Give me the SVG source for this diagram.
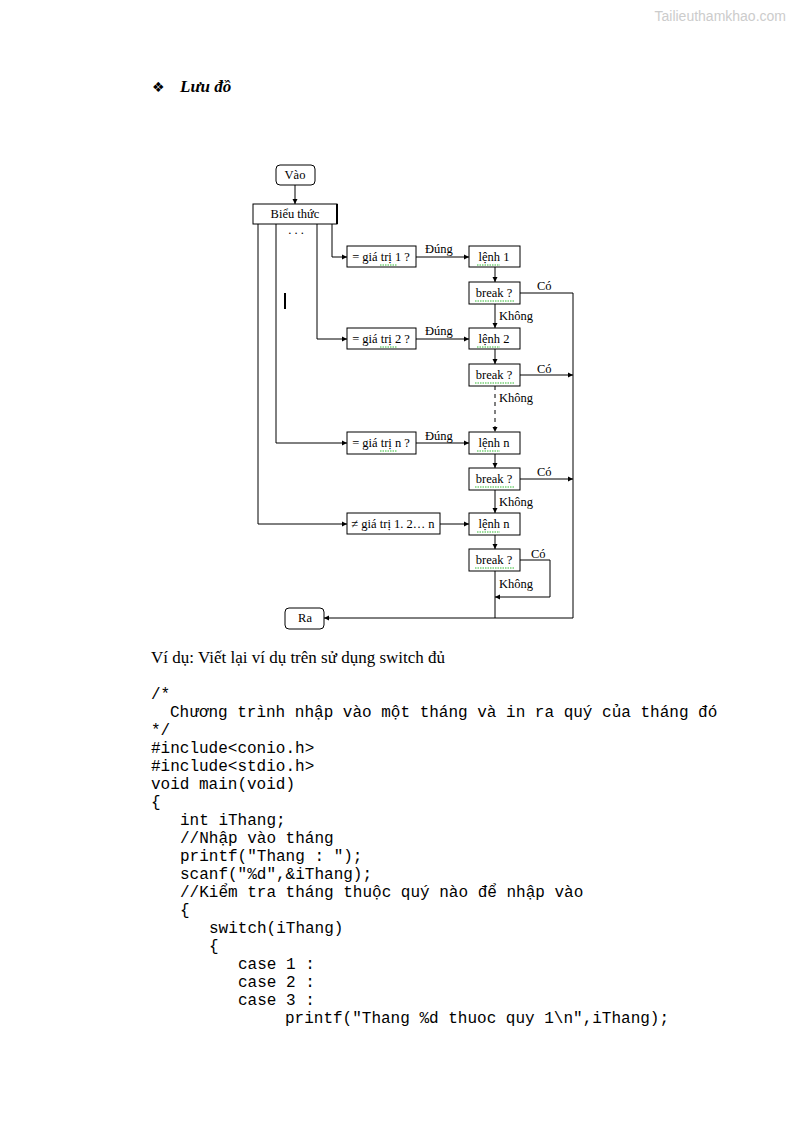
<svg xmlns="http://www.w3.org/2000/svg" width="794" height="1123" viewBox="0 0 794 1123">
<style>
.b{fill:#fff;stroke:#000;stroke-width:1}
.t{font-family:"Liberation Serif",serif;font-size:12.5px;text-anchor:middle}
.l{font-family:"Liberation Serif",serif;font-size:12.5px}
.c{font-family:"Liberation Mono",monospace;font-size:16px}
.w{stroke:#0a0;stroke-width:0.8;fill:none;stroke-dasharray:1.5 1}
#conn path{fill:none;stroke:#000;stroke-width:1}
</style>
<defs><marker id="a" markerWidth="6" markerHeight="6" refX="5" refY="3" orient="auto"><path d="M0,0.5L5,3L0,5.5z" fill="#000"/></marker></defs>
<rect width="794" height="1123" fill="#fff"/>
<text x="786" y="21" text-anchor="end" font-family="Liberation Sans,sans-serif" font-size="14" fill="#ccc">Tailieuthamkhao.com</text>
<text x="152" y="92" font-family="DejaVu Sans,sans-serif" font-size="14">❖</text>
<text x="180" y="92" font-family="Liberation Serif,serif" font-size="17" font-style="italic" font-weight="bold">Lưu đồ</text>
<g id="conn">
<path d="M295,185V204" marker-end="url(#a)"/>
<path d="M332,224V257H347" marker-end="url(#a)"/>
<path d="M317,224V339H347" marker-end="url(#a)"/>
<path d="M276,224V443H347" marker-end="url(#a)"/>
<path d="M258,224V524H347" marker-end="url(#a)"/>
<path d="M416,257H469" marker-end="url(#a)"/>
<path d="M416,339H469" marker-end="url(#a)"/>
<path d="M416,443H469" marker-end="url(#a)"/>
<path d="M440,524H469" marker-end="url(#a)"/>
<path d="M495,267V282" marker-end="url(#a)"/>
<path d="M495,304V328" marker-end="url(#a)"/>
<path d="M495,349V364" marker-end="url(#a)"/>
<path d="M495,386V432" stroke-dasharray="4 4" marker-end="url(#a)"/>
<path d="M495,454V468" marker-end="url(#a)"/>
<path d="M495,490V513" marker-end="url(#a)"/>
<path d="M495,535V549" marker-end="url(#a)"/>
<path d="M520,293H573V618"/>
<path d="M520,375H573" marker-end="url(#a)"/>
<path d="M520,479H573" marker-end="url(#a)"/>
<path d="M520,560H550V597H495" marker-end="url(#a)"/>
<path d="M495,571V618"/>
<path d="M573,618H324" marker-end="url(#a)"/>
</g>
<path d="M285,293V309" stroke="#000" stroke-width="2"/>
<text x="296" y="234" class="t">. . .</text>
<g id="vao"><rect class="b" x="276" y="165" width="39" height="20" rx="4"/><text class="t" x="295" y="179">Vào</text></g>
<g id="bieuthuc"><rect class="b" x="253" y="204" width="84" height="20"/><path d="M337,204V224" stroke="#000" stroke-width="2"/><text class="t" x="295" y="218">Biểu thức</text></g>
<g id="gt1"><rect class="b" x="347" y="246" width="69" height="21"/><text class="t" x="381" y="261">= giá trị 1 ?</text><path class="w" d="M380,265H397"/></g>
<g id="gt2"><rect class="b" x="347" y="328" width="69" height="21"/><text class="t" x="381" y="343">= giá trị 2 ?</text><path class="w" d="M380,347H397"/></g>
<g id="gtn"><rect class="b" x="347" y="432" width="69" height="22"/><text class="t" x="381" y="447">= giá trị n ?</text><path class="w" d="M380,451H397"/></g>
<g id="gtk"><rect class="b" x="347" y="513" width="93" height="21"/><text class="t" x="393" y="528">≠ giá trị 1. 2… n</text></g>
<g id="l1"><rect class="b" x="469" y="246" width="51" height="21"/><text class="t" x="494" y="261">lệnh 1</text><path class="w" d="M477,265H500"/></g>
<g id="b1"><rect class="b" x="469" y="282" width="51" height="22"/><text class="t" x="494" y="297">break ?</text><path class="w" d="M475,301H515"/></g>
<g id="l2"><rect class="b" x="469" y="328" width="51" height="21"/><text class="t" x="494" y="343">lệnh 2</text><path class="w" d="M477,347H500"/></g>
<g id="b2"><rect class="b" x="469" y="364" width="51" height="22"/><text class="t" x="494" y="379">break ?</text><path class="w" d="M475,383H515"/></g>
<g id="ln"><rect class="b" x="469" y="432" width="51" height="22"/><text class="t" x="494" y="447">lệnh n</text><path class="w" d="M477,451H500"/></g>
<g id="bn"><rect class="b" x="469" y="468" width="51" height="22"/><text class="t" x="494" y="483">break ?</text><path class="w" d="M475,487H515"/></g>
<g id="lk"><rect class="b" x="469" y="513" width="51" height="22"/><text class="t" x="494" y="528">lệnh n</text><path class="w" d="M477,532H500"/></g>
<g id="bk"><rect class="b" x="469" y="549" width="51" height="22"/><text class="t" x="494" y="564">break ?</text><path class="w" d="M475,568H515"/></g>
<g id="ra"><rect class="b" x="285" y="608" width="39" height="21" rx="4"/><text class="t" x="305" y="622">Ra</text></g>
<g class="l">
<text x="425" y="253">Đúng</text><text x="425" y="335">Đúng</text><text x="425" y="440">Đúng</text>
<text x="537" y="290">Có</text><text x="537" y="373">Có</text><text x="537" y="476">Có</text><text x="531" y="558">Có</text>
<text x="499" y="320">Không</text><text x="499" y="402">Không</text><text x="499" y="506">Không</text><text x="499" y="588">Không</text>
</g>
<text x="151" y="663" font-family="Liberation Serif,serif" font-size="17">Ví dụ: Viết lại ví dụ trên sử dụng switch đủ</text>
<g class="c">
<text x="151" y="699">/*</text>
<text x="170" y="717">Chương trình nhập vào một tháng và in ra quý của tháng đó</text>
<text x="151" y="735">*/</text>
<text x="151" y="753">#include&lt;conio.h&gt;</text>
<text x="151" y="771">#include&lt;stdio.h&gt;</text>
<text x="151" y="789">void main(void)</text>
<text x="151" y="807">{</text>
<text x="180" y="825">int iThang;</text>
<text x="180" y="843">//Nhập vào tháng</text>
<text x="180" y="861">printf("Thang : ");</text>
<text x="180" y="879">scanf("%d",&amp;iThang);</text>
<text x="180" y="897">//Kiểm tra tháng thuộc quý nào để nhập vào</text>
<text x="180" y="915">{</text>
<text x="209" y="933">switch(iThang)</text>
<text x="209" y="951">{</text>
<text x="238" y="969">case 1 :</text>
<text x="238" y="987">case 2 :</text>
<text x="238" y="1005">case 3 :</text>
<text x="285" y="1023">printf("Thang %d thuoc quy 1\n",iThang);</text>
</g>
</svg>
